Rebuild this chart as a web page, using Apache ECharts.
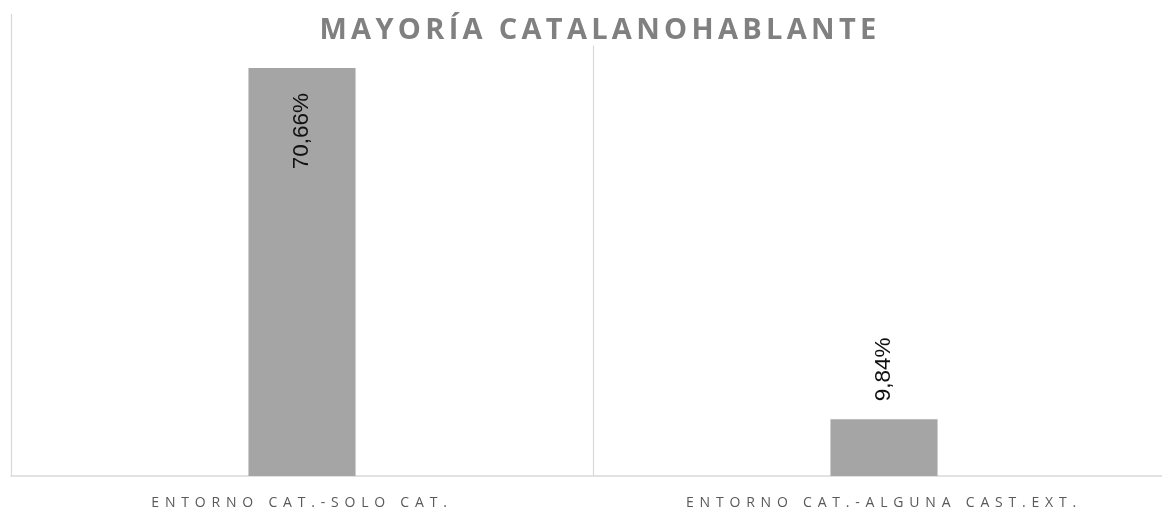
<!DOCTYPE html>
<html>
<head>
<meta charset="utf-8">
<style>
  html, body { margin: 0; padding: 0; background: #fff; overflow: hidden; }
  /* the drawing surface is wider than the page: the right end of the plot is cut off */
  #chart { width: 1180px; height: 513px; }
</style>
<script src="https://cdn.jsdelivr.net/npm/echarts@6/dist/echarts.min.js"></script>
</head>
<body>
<div id="chart"></div>
<script>
// Chart data
const titleText = 'MAYORÍA CATALANOHABLANTE';
const categories = ['ENTORNO CAT.-SOLO CAT.', 'ENTORNO CAT.-ALGUNA CAST.EXT.'];
const values = [70.66, 9.84];
const valueLabels = ['70,66%', '9,84%'];

// Tracked caps: wide letter spacing for the title and category labels
const TITLE_SPACING = '4.3px';
const AXIS_SPACING = '5.8px';
const origFillText = CanvasRenderingContext2D.prototype.fillText;
CanvasRenderingContext2D.prototype.fillText = function (text, x, y, maxW) {
  if ('letterSpacing' in this) {
    const f = this.font || '';
    if (f.indexOf('Open Sans') >= 0) {
      this.letterSpacing = /bold|700/.test(f) ? TITLE_SPACING : AXIS_SPACING;
    } else {
      this.letterSpacing = '0px';
    }
  }
  return maxW === undefined ? origFillText.call(this, text, x, y) : origFillText.call(this, text, x, y, maxW);
};

const chart = echarts.init(document.getElementById('chart'), null, { renderer: 'canvas' });

const option = {
  backgroundColor: '#ffffff',
  animation: false,
  title: {
    text: titleText,
    left: 598,
    textAlign: 'center',
    top: 14,
    padding: [11, 2, 0, 2],
    backgroundColor: '#ffffff',
    textStyle: {
      fontFamily: 'Open Sans',
      fontWeight: 'bold',
      fontSize: 29,
      lineHeight: 12,
      color: '#808080'
    }
  },
  grid: { left: 11, width: 1164, top: 14, bottom: 37, containLabel: false },
  xAxis: {
    type: 'category',
    data: categories,
    boundaryGap: true,
    axisLine: { show: true, lineStyle: { color: '#d9d9d9', width: 1.5 } },
    axisTick: { show: false },
    splitLine: { show: true, lineStyle: { color: '#d9d9d9', width: 1.2 } },
    axisLabel: {
      fontFamily: 'Open Sans',
      fontSize: 14,
      color: '#595959',
      margin: 20
    }
  },
  yAxis: {
    type: 'value',
    min: 0,
    max: 80,
    axisLine: { show: false },
    axisTick: { show: false },
    axisLabel: { show: false },
    splitLine: { show: false }
  },
  series: [{
    type: 'bar',
    data: values.map((v, i) => ({
      value: v,
      label: i === 0
        ? { position: 'insideTop', distance: 25, align: 'right' }
        : { position: 'top', distance: 18, align: 'left' }
    })),
    barWidth: '18.4%',
    itemStyle: { color: '#a5a5a5' },
    label: {
      show: true,
      rotate: 90,
      verticalAlign: 'middle',
      fontFamily: 'Liberation Sans',
      fontSize: 22.5,
      color: '#111111',
      formatter: p => valueLabels[p.dataIndex]
    }
  }]
};

chart.setOption(option);
</script>
</body>
</html>
